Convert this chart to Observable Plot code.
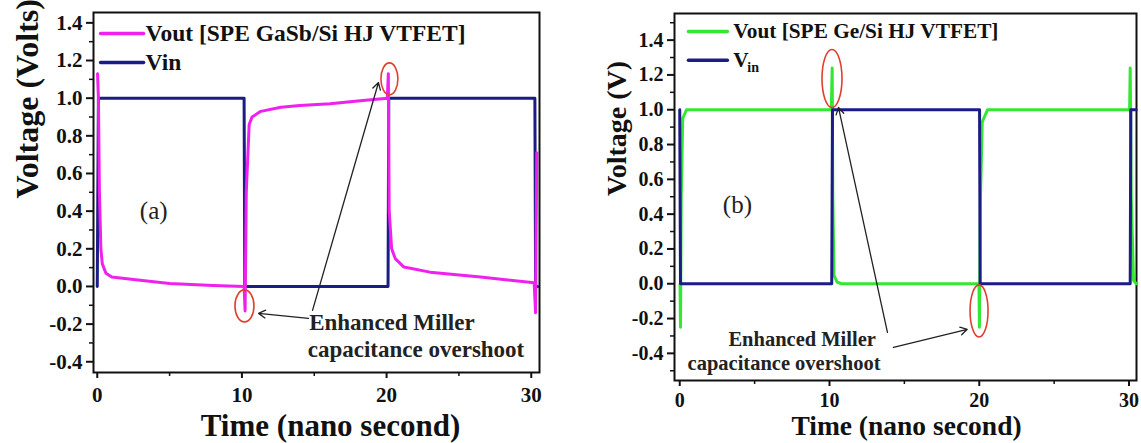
<!DOCTYPE html>
<html><head><meta charset="utf-8">
<script src="https://cdn.jsdelivr.net/npm/d3@7"></script>
<script src="https://cdn.jsdelivr.net/npm/@observablehq/plot@0.6"></script>
<style>
html,body{margin:0;padding:0;background:#fff;}
#wrap{display:flex;width:1141px;height:443px;overflow:hidden;}
#wrap svg text{font-family:"Liberation Serif","Times New Roman",serif;}
</style></head><body><div id="wrap"></div>
<script>
// ---------- Panel (a): GaSb/Si ----------
const aVinT = [0, 0.08, 10.15, 10.2, 20.1, 20.15, 30.25, 30.3, 30.45];
const aVinV = [0, 1.0, 1.0, 0.0, 0.0, 1.0, 1.0, 0.0, 0.0];
const aVoutT = [0.02, 0.08, 0.15, 0.25, 0.35, 0.6, 1.0, 2.5, 5, 8, 10.15, 10.22, 10.3, 10.5, 10.7, 11.3, 12.7, 14, 16.1, 18, 20.05, 20.12, 20.18, 20.35, 20.6, 21.2, 23, 26.5, 30.2, 30.3, 30.38];
const aVoutV = [1.13, 1.0, 0.5, 0.2, 0.12, 0.07, 0.05, 0.037, 0.016, 0.005, 0.0, -0.13, 0.5, 0.86, 0.9, 0.93, 0.952, 0.961, 0.97, 0.985, 1.0, 1.13, 0.4, 0.2, 0.148, 0.103, 0.076, 0.05, 0.02, -0.14, 0.71];

// ---------- Panel (b): Ge/Si ----------
const bVinT = [0.0, 0.05, 10.15, 10.2, 20.02, 20.06, 30.08, 30.12, 30.48];
const bVinV = [1.0, 0.0, 0.0, 1.0, 1.0, 0.0, 0.0, 1.0, 1.0];
const bVoutT = [0.02, 0.05, 0.1, 0.2, 0.45, 10.12, 10.18, 10.22, 10.3, 10.5, 10.8, 19.98, 20.01, 20.08, 20.2, 20.55, 30.04, 30.08, 30.15, 30.3, 30.48];
const bVoutV = [0.0, -0.25, 0.5, 0.95, 1.0, 1.0, 1.24, 0.5, 0.05, 0.01, 0.0, 0.0, -0.25, 0.5, 0.93, 1.0, 1.0, 1.24, 0.5, 0.02, 0.0];

// ticks
const xMajor = [0, 10, 20, 30];
const xMinor = [5, 15, 25];
const aYMajor = [-0.4, -0.2, 0.0, 0.2, 0.4, 0.6, 0.8, 1.0, 1.2, 1.4];
const aYMinor = [-0.3, -0.1, 0.1, 0.3, 0.5, 0.7, 0.9, 1.1, 1.3];
const bYMajor = [-0.4, -0.2, 0.0, 0.2, 0.4, 0.6, 0.8, 1.0, 1.2, 1.4];
const bYMinor = [-0.5, -0.3, -0.1, 0.1, 0.3, 0.5, 0.7, 0.9, 1.1, 1.3, 1.5];

// labels
const aLegend = ["Vout [SPE GaSb/Si HJ VTFET]", "Vin"];
const bLegend = ["Vout [SPE Ge/Si HJ VTFET]", "V"];
const annotLines = ["Enhanced Miller", "capacitance overshoot"];
const xTitle = "Time (nano second)";

// annotation anchors (data units)
const aEllipses = [{t: 10.21, v: -0.106, rx: 9.5, ry: 16}, {t: 20.23, v: 1.10, rx: 8.5, ry: 16}];
const aArrows = [{t1: 14.6, v1: -0.17, t2: 11.15, v2: -0.143}, {t1: 14.88, v1: -0.127, t2: 19.44, v2: 1.083}];
const bEllipses = [{t: 10.2, v: 1.177, rx: 10, ry: 29}, {t: 20.02, v: -0.159, rx: 9, ry: 26}];
const bArrows = [{t1: 13.87, v1: -0.28, t2: 10.6, v2: 1.013}, {t1: 14.27, v1: -0.366, t2: 19.2, v2: -0.262}];

const MAG = "#f020ee", NAVY = "#1c1c86", GREEN = "#33e833", RED = "#e0402e";
const FONT = "'Liberation Serif', 'Times New Roman', serif";
const zip = (ts, vs) => ts.map((t, i) => ({t, v: vs[i]}));

function panel(c) {
  const marks = [
    Plot.frame({stroke: "#111", strokeWidth: 2}),
    Plot.axisY({ticks: c.yMinor, tickSize: 4, tickFormat: () => "", strokeWidth: 1.5, label: null}),
    Plot.axisY({ticks: c.yMajor, tickSize: 7, tickPadding: 4, tickFormat: d => d.toFixed(1), fontSize: c.tickFont, fontFamily: FONT, fontWeight: "bold", strokeWidth: 2, label: null}),
    Plot.axisX({ticks: xMinor, tickSize: 4, tickFormat: () => "", strokeWidth: 1.5, label: null}),
    Plot.axisX({ticks: xMajor, tickSize: 6, tickPadding: c.xPad, fontSize: c.tickFont, fontFamily: FONT, fontWeight: "bold", strokeWidth: 2, label: null}),
    ...c.series.map(s => Plot.line(s.data, {x: "t", y: "v", stroke: s.color, strokeWidth: 3})),
    // legend
    ...c.legend.map(L => Plot.line([{t: L.t1, v: L.v}, {t: L.t2, v: L.v}], {x: "t", y: "v", stroke: L.color, strokeWidth: 3.5})),
    ...c.legend.map(L => Plot.text([L.label], {x: () => L.tx, y: () => L.v, text: d => d, textAnchor: "start", lineAnchor: "middle", fontSize: c.legFont, fill: "#111"})),
    // panel tag
    Plot.text([c.tag], {x: () => c.tagT, y: () => c.tagV, text: d => d, fontSize: 25, fontWeight: "normal", lineAnchor: "middle", fill: "#222"}),
    // annotation text
    ...annotLines.map((s, i) => Plot.text([s], {x: () => c.annT[i], y: () => c.annV[i], text: d => d, textAnchor: "start", lineAnchor: "middle", fontSize: c.annFont, fill: "#222"})),
    Plot.arrow(c.arrows, {x1: "t1", y1: "v1", x2: "t2", y2: "v2", stroke: "#222", strokeWidth: 1.3, headLength: 9}),
    // axis titles
    Plot.text([xTitle], {frameAnchor: "bottom", text: d => d, dx: c.xtDx, dy: c.xtDy, lineAnchor: "middle", fontSize: c.xtFont, fill: "#111"}),
    Plot.text([c.yTitle], {frameAnchor: "left", text: d => d, rotate: -90, dx: c.ytDx, dy: c.ytDy, lineAnchor: "middle", fontSize: c.ytFont, fill: "#111"})
  ];
  if (c.extra) marks.push(...c.extra);
  const p = Plot.plot({
    width: c.width, height: 443,
    marginLeft: c.ml, marginRight: c.mr, marginTop: c.mt, marginBottom: c.mb,
    x: {domain: c.xd}, y: {domain: c.yd},
    style: {fontFamily: FONT, fontWeight: "bold", background: "#fff", color: "#111", overflow: "visible"},
    marks
  });
  const xs = p.scale("x"), ys = p.scale("y");
  const svg = d3.select(p.tagName.toLowerCase() === "svg" ? p : p.querySelector("svg"));
  c.ellipses.forEach(e => {
    svg.append("ellipse")
      .attr("cx", xs.apply(e.t)).attr("cy", ys.apply(e.v))
      .attr("rx", e.rx).attr("ry", e.ry)
      .attr("fill", "none").attr("stroke", RED).attr("stroke-width", 1.6);
  });
  return p;
}

const wrap = document.getElementById("wrap");

wrap.appendChild(panel({
  width: 570, ml: 93, mr: 31, mt: 12, mb: 71,
  xd: [-0.26, 30.57], yd: [-0.457, 1.455],
  yMajor: aYMajor, yMinor: aYMinor, tickFont: 21, xPad: 9,
  series: [
    {data: zip(aVinT, aVinV), color: NAVY},
    {data: zip(aVoutT, aVoutV), color: MAG}
  ],
  legend: [
    {t1: 0.23, t2: 3.2, v: 1.343, tx: 3.34, label: aLegend[0], color: MAG},
    {t1: 0.23, t2: 3.2, v: 1.19, tx: 3.34, label: aLegend[1], color: NAVY}
  ],
  legFont: 23.5,
  tag: "(a)", tagT: 3.9, tagV: 0.40,
  annT: [14.65, 14.55], annV: [-0.19, -0.335], annFont: 23,
  arrows: aArrows, ellipses: aEllipses,
  xtDx: 14, xtDy: 54, xtFont: 31,
  yTitle: "Voltage (Volts)", ytDx: -66, ytDy: 6, ytFont: 32
}));

wrap.appendChild(panel({
  width: 571, ml: 104, mr: 5, mt: 13, mb: 63,
  xd: [-0.35, 30.5], yd: [-0.556, 1.553],
  yMajor: bYMajor, yMinor: bYMinor, tickFont: 20, xPad: 6,
  series: [
    {data: zip(bVoutT, bVoutV), color: GREEN},
    {data: zip(bVinT, bVinV), color: NAVY}
  ],
  legend: [
    {t1: 0.58, t2: 3.18, v: 1.45, tx: 3.58, label: bLegend[0], color: GREEN},
    {t1: 0.58, t2: 3.18, v: 1.284, tx: 3.58, label: bLegend[1], color: NAVY}
  ],
  legFont: 21.3,
  extra: [Plot.text(["in"], {x: () => 3.58, y: () => 1.284, text: d => d, textAnchor: "start", lineAnchor: "middle", dx: 14, dy: 7, fontSize: 14, fill: "#111"})],
  tag: "(b)", tagT: 3.85, tagV: 0.45,
  annT: [3.25, 0.52], annV: [-0.318, -0.458], annFont: 20.5,
  arrows: bArrows, ellipses: bEllipses,
  xtDx: 1, xtDy: 46, xtFont: 27.5,
  yTitle: "Voltage (V)", ytDx: -57, ytDy: -1, ytFont: 28
}));
</script></body></html>
